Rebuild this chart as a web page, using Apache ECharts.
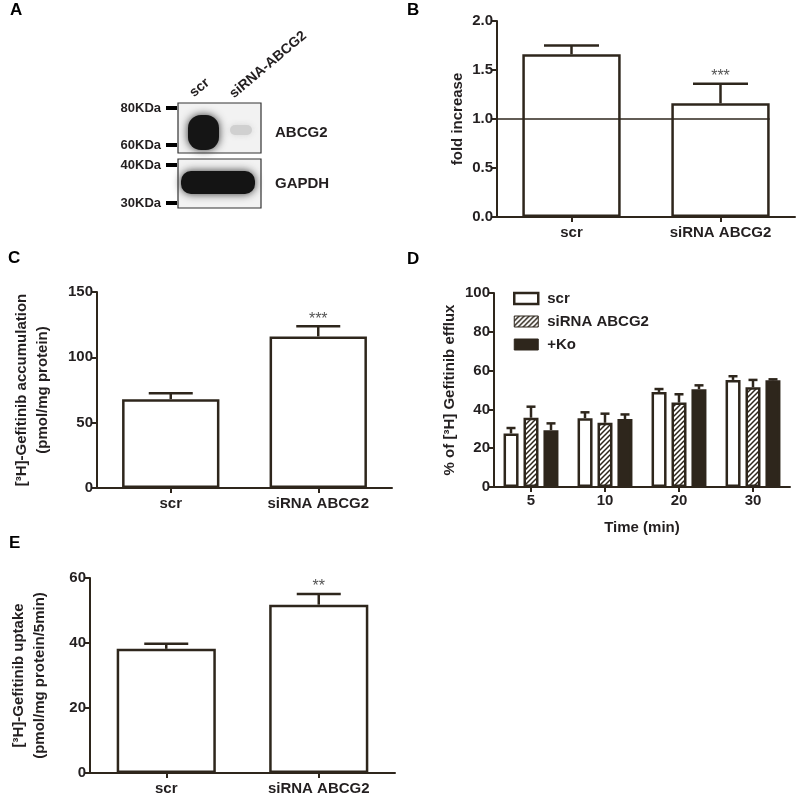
<!DOCTYPE html>
<html><head><meta charset="utf-8">
<script src="https://cdn.jsdelivr.net/npm/echarts/dist/echarts.min.js"></script>
<style>html,body{margin:0;padding:0;background:#fff}#c{width:797px;height:796px}</style>
</head><body><div id="c"></div>
<script>
// ---- data ----
const catsTwo = ['scr', 'siRNA ABCG2'];
const valB = [1.66, 1.16];
const errB = [0.09, 0.20];
const sigB = ['', '***'];
const refB = 1.0;

const valC = [68, 116];
const errC = [4.5, 7.8];
const sigC = ['', '***'];

const catsD = ['5', '10', '20', '30'];
const seriesNamesD = ['scr', 'siRNA ABCG2', '+Ko'];
const scrD = [27.6, 35.5, 49.0, 55.2];
const scrDErr = [2.8, 3.0, 1.5, 1.9];
const sirnaD = [35.7, 33.1, 43.5, 51.4];
const sirnaDErr = [5.7, 4.7, 4.3, 3.8];
const koD = [29.3, 35.0, 50.4, 55.0];
const koDErr = [3.5, 2.4, 2.0, 0.5];

const valE = [38.2, 51.8];
const errE = [1.6, 3.3];
const sigE = ['', '**'];

// ---- style ----
const AX = '#2e261c';
const TXT = '#231f20';
const FF = "'Liberation Sans', Arial, sans-serif";

function hatch() {
  const c = document.createElement('canvas');
  c.width = 5; c.height = 5;
  const g = c.getContext('2d');
  g.fillStyle = '#fff'; g.fillRect(0, 0, 5, 5);
  g.strokeStyle = AX; g.lineWidth = 1.5;
  g.beginPath();
  g.moveTo(-1, 6); g.lineTo(6, -1);
  g.moveTo(-1, 1); g.lineTo(1, -1);
  g.moveTo(4, 6); g.lineTo(6, 4);
  g.stroke();
  return c;
}
const HATCH = { image: hatch(), repeat: 'repeat' };

const chart = echarts.init(document.getElementById('c'), null, { renderer: 'canvas' });

function errRender(offsetPx, capW) {
  return function (params, api) {
    const c = api.value(0), v = api.value(1), e = api.value(2);
    const sig = api.value(3);
    const p0 = api.coord([c, v]);
    const p1 = api.coord([c, v + e]);
    const x = p0[0] + offsetPx;
    const ch = [
      { type: 'line', shape: { x1: x, y1: p0[1], x2: x, y2: p1[1] }, style: { stroke: AX, lineWidth: 2.5 } },
      { type: 'line', shape: { x1: x - capW / 2, y1: p1[1], x2: x + capW / 2, y2: p1[1] }, style: { stroke: AX, lineWidth: 2.5 } }
    ];
    if (sig && sig !== '-') {
      ch.push({ type: 'text', style: { text: sig, x: x, y: p1[1] - 7, textAlign: 'center', textVerticalAlign: 'middle', font: '16px ' + FF, fill: '#555' } });
    }
    return { type: 'group', children: ch };
  };
}

function errData(vals, errs, sigs) {
  return vals.map((v, i) => [i, v, errs[i], sigs ? (sigs[i] || '-') : '-']);
}

const axisLabelStyle = { color: TXT, fontFamily: FF, fontWeight: 'bold', fontSize: 15 };
const nameStyle = { color: TXT, fontFamily: FF, fontWeight: 'bold', fontSize: 15, lineHeight: 21 };

function xCat(grid, data, margin) {
  return {
    type: 'category', gridIndex: grid, data: data,
    axisLine: { lineStyle: { color: AX, width: 2 } },
    axisTick: { show: true, alignWithLabel: true, length: 5, lineStyle: { color: AX, width: 2 } },
    axisLabel: Object.assign({ margin: margin }, axisLabelStyle),
    splitLine: { show: false }
  };
}
function yVal(grid, max, interval, name, gap, fmt) {
  return {
    type: 'value', gridIndex: grid, min: 0, max: max, interval: interval,
    name: name, nameLocation: 'middle', nameGap: gap, nameTextStyle: nameStyle,
    axisLine: { show: true, lineStyle: { color: AX, width: 2 } },
    axisTick: { show: true, length: 5, lineStyle: { color: AX, width: 2 } },
    axisLabel: Object.assign({ margin: 4, formatter: fmt }, axisLabelStyle),
    splitLine: { show: false }
  };
}

const barStyle = { color: '#fff', borderColor: AX, borderWidth: 2.5 };

// panel A blot (drawn picture)
const blot = [
  { type: 'rect', shape: { x: 178, y: 103, width: 83, height: 50 }, style: { fill: '#f2f2f2', stroke: '#333', lineWidth: 1.2 } },
  { type: 'rect', shape: { x: 178, y: 159, width: 83, height: 49 }, style: { fill: '#f2f2f2', stroke: '#333', lineWidth: 1.2 } },
  { type: 'rect', shape: { x: 188, y: 115, width: 31, height: 35, r: 13 }, style: { fill: '#151515', shadowBlur: 8, shadowColor: '#333' } },
  { type: 'rect', shape: { x: 230, y: 125, width: 22, height: 10, r: 5 }, style: { fill: '#d0d0d0', shadowBlur: 6, shadowColor: '#d5d5d5' } },
  { type: 'rect', shape: { x: 181, y: 171, width: 74, height: 23, r: 10 }, style: { fill: '#141414', shadowBlur: 8, shadowColor: '#333' } },
  { type: 'rect', shape: { x: 166, y: 106, width: 11, height: 4 }, style: { fill: '#000' } },
  { type: 'rect', shape: { x: 166, y: 143, width: 11, height: 4 }, style: { fill: '#000' } },
  { type: 'rect', shape: { x: 166, y: 163, width: 11, height: 4 }, style: { fill: '#000' } },
  { type: 'rect', shape: { x: 166, y: 201, width: 11, height: 4 }, style: { fill: '#000' } },
  { type: 'text', style: { text: '80KDa', x: 161, y: 108, textAlign: 'right', textVerticalAlign: 'middle', font: 'bold 13px ' + FF, fill: TXT } },
  { type: 'text', style: { text: '60KDa', x: 161, y: 145, textAlign: 'right', textVerticalAlign: 'middle', font: 'bold 13px ' + FF, fill: TXT } },
  { type: 'text', style: { text: '40KDa', x: 161, y: 165, textAlign: 'right', textVerticalAlign: 'middle', font: 'bold 13px ' + FF, fill: TXT } },
  { type: 'text', style: { text: '30KDa', x: 161, y: 203, textAlign: 'right', textVerticalAlign: 'middle', font: 'bold 13px ' + FF, fill: TXT } },
  { type: 'text', style: { text: 'ABCG2', x: 275, y: 133, textAlign: 'left', textVerticalAlign: 'middle', font: 'bold 15px ' + FF, fill: TXT } },
  { type: 'text', style: { text: 'GAPDH', x: 275, y: 184, textAlign: 'left', textVerticalAlign: 'middle', font: 'bold 15px ' + FF, fill: TXT } },
  { type: 'text', x: 196, y: 100, rotation: 40 * Math.PI / 180, style: { text: 'scr', x: 0, y: 0, textAlign: 'left', textVerticalAlign: 'bottom', font: 'bold 14px ' + FF, fill: TXT } },
  { type: 'text', x: 236, y: 101, rotation: 40 * Math.PI / 180, style: { text: 'siRNA-ABCG2', x: 0, y: 0, textAlign: 'left', textVerticalAlign: 'bottom', font: 'bold 14px ' + FF, fill: TXT } }
];
const letters = [['A', 10, 10], ['B', 407, 10], ['C', 8, 258], ['D', 407, 259], ['E', 9, 543]].map(l => ({
  type: 'text', style: { text: l[0], x: l[1], y: l[2], textVerticalAlign: 'middle', font: 'bold 17px ' + FF, fill: '#000' }
}));

const option = {
  animation: false,
  backgroundColor: '#fff',
  textStyle: { fontFamily: FF },
  graphic: blot.concat(letters),
  grid: [
    { left: 497, top: 21, width: 298, height: 196 },   // B
    { left: 97, top: 292, width: 295, height: 196 },   // C
    { left: 494, top: 293, width: 296, height: 194 },  // D
    { left: 90, top: 578, width: 305, height: 196 }    // E
  ],
  legend: {
    orient: 'vertical', left: 513, top: 291, padding: 0, itemWidth: 24, itemHeight: 11, itemGap: 8,
    textStyle: { color: TXT, fontFamily: FF, fontWeight: 'bold', fontSize: 15, padding: [0, 0, 0, 4] },
    data: [
      { name: seriesNamesD[0], icon: 'rect', itemStyle: { color: '#fff', borderColor: AX, borderWidth: 2.5 } },
      { name: seriesNamesD[1], icon: 'rect', itemStyle: { color: HATCH, borderColor: AX, borderWidth: 1 } },
      { name: seriesNamesD[2], icon: 'rect', itemStyle: { color: AX, borderColor: AX, borderWidth: 1 } }
    ]
  },
  xAxis: [
    xCat(0, catsTwo, 8),
    xCat(1, catsTwo, 8),
    Object.assign(xCat(2, catsD, 6), { name: 'Time (min)', nameLocation: 'middle', nameGap: 30, nameTextStyle: nameStyle }),
    xCat(3, catsTwo, 8)
  ],
  yAxis: [
    yVal(0, 2, 0.5, 'fold increase', 27, v => v.toFixed(1)),
    yVal(1, 150, 50, '[³H]-Gefitinib accumulation\n(pmol/mg protein)', 44),
    yVal(2, 100, 20, '% of [³H] Gefitinib efflux', 34),
    yVal(3, 60, 20, '[³H]-Gefitinib uptake\n(pmol/mg protein/5min)', 40)
  ],
  series: [
    { type: 'bar', xAxisIndex: 0, yAxisIndex: 0, data: valB, barWidth: '66%', itemStyle: barStyle, z: 2 },
    { type: 'custom', xAxisIndex: 0, yAxisIndex: 0, data: errData(valB, errB, sigB), renderItem: errRender(0, 55), z: 3 },
    { type: 'custom', xAxisIndex: 0, yAxisIndex: 0, data: [[1, refB]], z: 4,
      renderItem: function (params, api) {
        const p = api.coord([api.value(0), api.value(1)]);
        const bw = api.size([1, 0])[0];
        const left = params.coordSys.x;
        return { type: 'line', shape: { x1: left, y1: p[1], x2: p[0] + bw * 0.33, y2: p[1] }, style: { stroke: AX, lineWidth: 1.5 } };
      } },
    { type: 'bar', xAxisIndex: 1, yAxisIndex: 1, data: valC, barWidth: '66%', itemStyle: barStyle, z: 2 },
    { type: 'custom', xAxisIndex: 1, yAxisIndex: 1, data: errData(valC, errC, sigC), renderItem: errRender(0, 44), z: 3 },
    { name: seriesNamesD[0], type: 'bar', xAxisIndex: 2, yAxisIndex: 2, data: scrD, barWidth: 15, barGap: '33%', itemStyle: barStyle, z: 2 },
    { name: seriesNamesD[1], type: 'bar', xAxisIndex: 2, yAxisIndex: 2, data: sirnaD, barWidth: 15, barGap: '33%', itemStyle: { color: HATCH, borderColor: AX, borderWidth: 2.5 }, z: 2 },
    { name: seriesNamesD[2], type: 'bar', xAxisIndex: 2, yAxisIndex: 2, data: koD, barWidth: 15, barGap: '33%', itemStyle: { color: AX, borderColor: AX, borderWidth: 2.5 }, z: 2 },
    { type: 'custom', xAxisIndex: 2, yAxisIndex: 2, data: errData(scrD, scrDErr), renderItem: errRender(-20, 9), z: 3 },
    { type: 'custom', xAxisIndex: 2, yAxisIndex: 2, data: errData(sirnaD, sirnaDErr), renderItem: errRender(0, 9), z: 3 },
    { type: 'custom', xAxisIndex: 2, yAxisIndex: 2, data: errData(koD, koDErr), renderItem: errRender(20, 9), z: 3 },
    { type: 'bar', xAxisIndex: 3, yAxisIndex: 3, data: valE, barWidth: '65%', itemStyle: barStyle, z: 2 },
    { type: 'custom', xAxisIndex: 3, yAxisIndex: 3, data: errData(valE, errE, sigE), renderItem: errRender(0, 44), z: 3 }
  ]
};
chart.setOption(option);
</script>
</body></html>
